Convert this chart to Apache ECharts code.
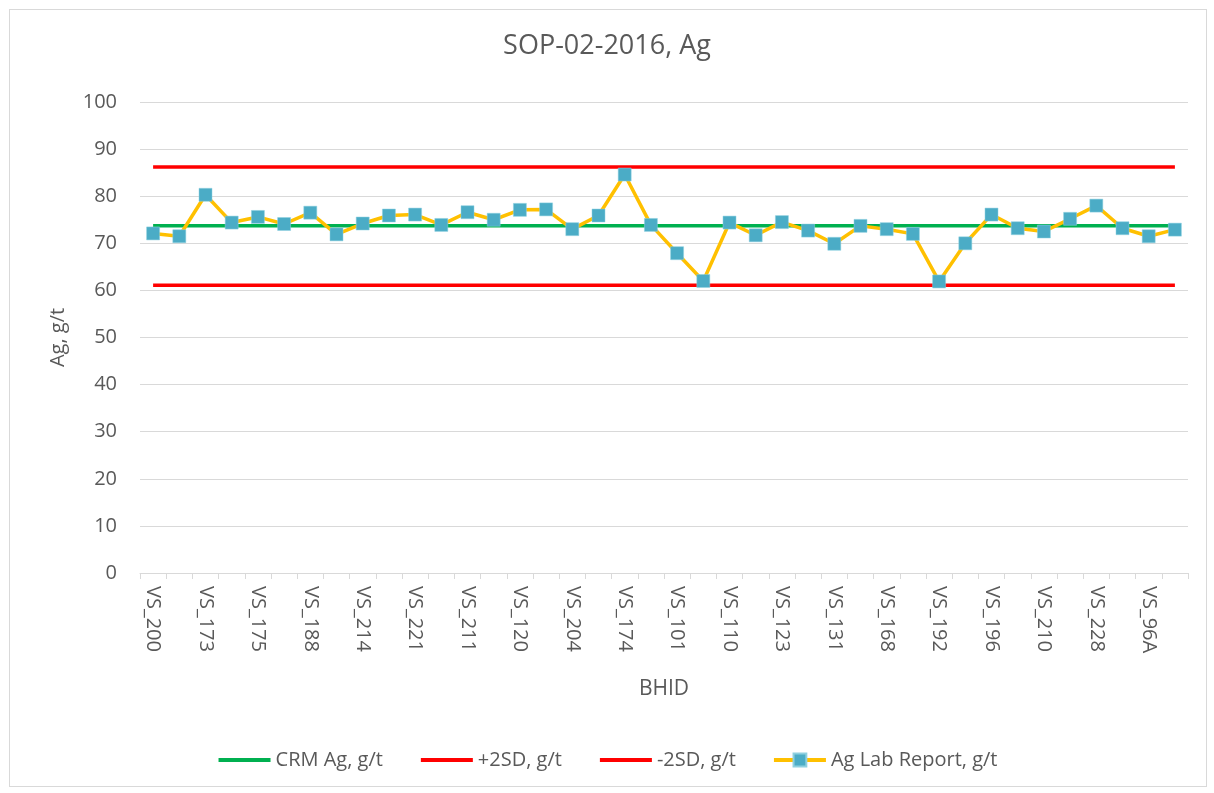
<!DOCTYPE html>
<html>
<head>
<meta charset="utf-8">
<script src="https://cdn.jsdelivr.net/npm/echarts@6/dist/echarts.min.js"></script>
<style>
  html, body { margin: 0; padding: 0; background: #fff; }
  #frame { position: absolute; left: 9px; top: 9px; width: 1196px; height: 776px; border: 1px solid #d9d9d9; }
  #chart0 { position: absolute; left: 0; top: 0; width: 1214px; height: 793px; }
</style>
</head>
<body>
<div id="frame"></div>
<div id="chart0"></div>
<script>
// sample ids (every other one is printed on the axis)
var bhid = ['VS_200', 'VS_201', 'VS_173', 'VS_172', 'VS_175', 'VS_176', 'VS_188', 'VS_189',
  'VS_214', 'VS_215', 'VS_221', 'VS_222', 'VS_211', 'VS_212', 'VS_120', 'VS_121',
  'VS_204', 'VS_205', 'VS_174', 'VS_100', 'VS_101', 'VS_102', 'VS_110', 'VS_111',
  'VS_123', 'VS_124', 'VS_131', 'VS_132', 'VS_168', 'VS_169', 'VS_192', 'VS_193',
  'VS_196', 'VS_197', 'VS_210', 'VS_209', 'VS_228', 'VS_229', 'VS_96A', 'VS_96B'];

var labReport = [72.1, 71.5, 80.3, 74.4, 75.6, 74.1, 76.5, 71.9, 74.2, 75.9,
  76.1, 73.9, 76.6, 75.0, 77.1, 77.2, 73.0, 75.9, 84.6, 73.9,
  67.9, 62.0, 74.4, 71.7, 74.5, 72.7, 69.9, 73.7, 73.0, 72.0,
  61.9, 70.0, 76.1, 73.2, 72.5, 75.2, 78.0, 73.2, 71.5, 72.9];

var crmAg = 73.7;
var plus2SD = 86.2;
var minus2SD = 61.1;

var yTicks = { min: 0, max: 100, step: 10 };

var font = '"Open Sans", "Liberation Sans", sans-serif';
var grey = '#595959';

var chart = echarts.init(document.getElementById('chart0'));

var flat = function(v) { return bhid.map(function() { return v; }); };

chart.setOption({
  animation: false,
  textStyle: { fontFamily: font },
  title: {
    text: 'SOP-02-2016, Ag',
    left: 'center', top: 28,
    textStyle: { fontFamily: font, fontSize: 27, fontWeight: 'normal', color: grey }
  },
  grid: { left: 140, right: 26, top: 102, bottom: 220 },
  legend: {
    bottom: 18, left: 'center', itemGap: 36, itemWidth: 52, itemHeight: 16,
    lineStyle: { width: 4 },
    textStyle: { fontFamily: font, fontSize: 20, color: grey },
    data: ['CRM Ag, g/t', '+2SD, g/t', '-2SD, g/t', 'Ag Lab Report, g/t']
  },
  xAxis: {
    type: 'category', data: bhid, boundaryGap: true,
    name: 'BHID', nameLocation: 'middle', nameGap: 106,
    nameTextStyle: { fontFamily: font, fontSize: 21, color: grey },
    axisLine: { lineStyle: { color: '#d9d9d9', width: 1 } },
    axisTick: { show: true, interval: 0, length: 6, lineStyle: { color: '#d9d9d9' } },
    axisLabel: { interval: 1, rotate: -90, fontSize: 20, color: grey, margin: 13, fontFamily: font }
  },
  yAxis: {
    type: 'value', min: yTicks.min, max: yTicks.max, interval: yTicks.step,
    name: 'Ag, g/t', nameLocation: 'middle', nameGap: 72, nameRotate: 90,
    nameTextStyle: { fontFamily: font, fontSize: 20, color: grey },
    axisLine: { show: false }, axisTick: { show: false },
    axisLabel: { fontSize: 20, color: grey, margin: 23, fontFamily: font },
    splitLine: { lineStyle: { color: '#d9d9d9', width: 1 } }
  },
  series: [
    { name: 'CRM Ag, g/t', type: 'line', data: flat(crmAg), symbol: 'none',
      lineStyle: { color: '#00b050', width: 3.5 }, itemStyle: { color: 'rgba(0,0,0,0)' } },
    { name: '+2SD, g/t', type: 'line', data: flat(plus2SD), symbol: 'none',
      lineStyle: { color: '#ff0000', width: 3.5 }, itemStyle: { color: 'rgba(0,0,0,0)' } },
    { name: '-2SD, g/t', type: 'line', data: flat(minus2SD), symbol: 'none',
      lineStyle: { color: '#ff0000', width: 3.5 }, itemStyle: { color: 'rgba(0,0,0,0)' } },
    { name: 'Ag Lab Report, g/t', type: 'line', data: labReport,
      symbol: 'rect', symbolSize: 13,
      lineStyle: { color: '#ffc000', width: 3.5 },
      itemStyle: { color: '#4bacc6', borderColor: '#8fd0e0', borderWidth: 0.5 } }
  ]
});
</script>
</body>
</html>
